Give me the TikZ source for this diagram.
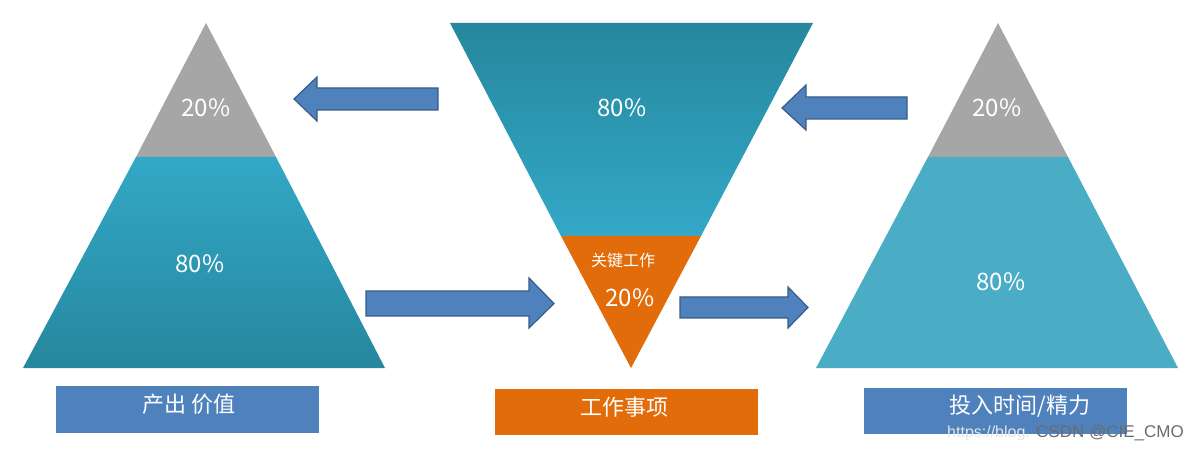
\documentclass[tikz,border=0pt]{standalone}
\usepackage{fontspec}
\setmainfont{Noto Sans CJK SC}
\newfontfamily\wmfont{Liberation Sans}
\definecolor{tealtop}{HTML}{33A8C7}
\definecolor{tealbot}{HTML}{26879D}
\definecolor{tealflat}{HTML}{4BACC6}
\definecolor{topgray}{HTML}{A6A6A6}
\definecolor{orng}{HTML}{E36C0A}
\definecolor{arrfill}{HTML}{4F81BD}
\definecolor{arrline}{HTML}{385D8A}
\tikzset{
  blockarrow/.style={fill=arrfill,draw=arrline,line width=1.2pt,line join=miter},
  pct/.style={text=white,font=\fontsize{24}{28}\selectfont,inner sep=0pt},
  lbl/.style={text=white,font=\fontsize{22}{26}\selectfont,inner sep=0pt},
}
\begin{document}
\begin{tikzpicture}[x=1pt,y=-1pt]
\useasboundingbox (0,0) rectangle (1202,454);
\fill[white] (0,0) rectangle (1202,454);

% left pyramid
\fill[topgray] (206,23) -- (276,157) -- (136,157) -- cycle;
\shade[top color=tealtop,bottom color=tealbot] (136,157) -- (276,157) -- (385,368) -- (23,368) -- cycle;
\node[pct] (l20) at (206,108) {20\%};
\node[pct] (l80) at (200,264) {80\%};

% middle inverted pyramid
\shade[top color=tealbot,bottom color=tealtop] (450,23) -- (813,23) -- (701,236) -- (561,236) -- cycle;
\fill[orng] (561,236) -- (701,236) -- (631,368) -- cycle;
\node[pct] (m80) at (622,108) {80\%};
\node[text=white,font=\fontsize{16}{19}\selectfont,inner sep=0pt] (mkey) at (623,260) {关键工作};
\node[pct] (m20) at (630,298) {20\%};

% right pyramid
\fill[topgray] (998,23) -- (1068,157) -- (928,157) -- cycle;
\fill[tealflat] (928,157) -- (1068,157) -- (1178,368) -- (816,368) -- cycle;
\node[pct] (r20) at (997,108) {20\%};
\node[pct] (r80) at (1001,282) {80\%};

% block arrows
\draw[blockarrow] (438,88) -- (317,88) -- (317,77) -- (294,99) -- (317,121) -- (317,110) -- (438,110) -- cycle;
\draw[blockarrow] (366,291) -- (529,291) -- (529,278) -- (554,303.5) -- (529,328) -- (529,316) -- (366,316) -- cycle;
\draw[blockarrow] (680,297) -- (788,297) -- (788,287) -- (808,307.5) -- (788,328) -- (788,318) -- (680,318) -- cycle;
\draw[blockarrow] (907,97) -- (806,97) -- (806,85) -- (782,108) -- (806,130) -- (806,119) -- (907,119) -- cycle;

% bottom labels
\fill[arrfill] (56,386) rectangle (319,433);
\node[lbl] (out) at (189,404) {产出 价值};
\fill[orng] (495,389) rectangle (758,435);
\node[lbl] (work) at (624,407) {工作事项};
\fill[arrfill] (864,388) rectangle (1127,434);
\node[lbl] (inp) at (1020,406) {投入时间/精力};

% watermark
\node[anchor=west,text=white!80!gray,font=\wmfont\fontsize{16}{18}\selectfont,inner sep=0pt] (wm1) at (947,433) {https://blog.};
\node[text=gray!85!black,font=\wmfont\fontsize{17}{19}\selectfont,inner sep=0pt] (wm2) at (1110,433) {CSDN @CIE\_CMO};
\end{tikzpicture}
\end{document}
